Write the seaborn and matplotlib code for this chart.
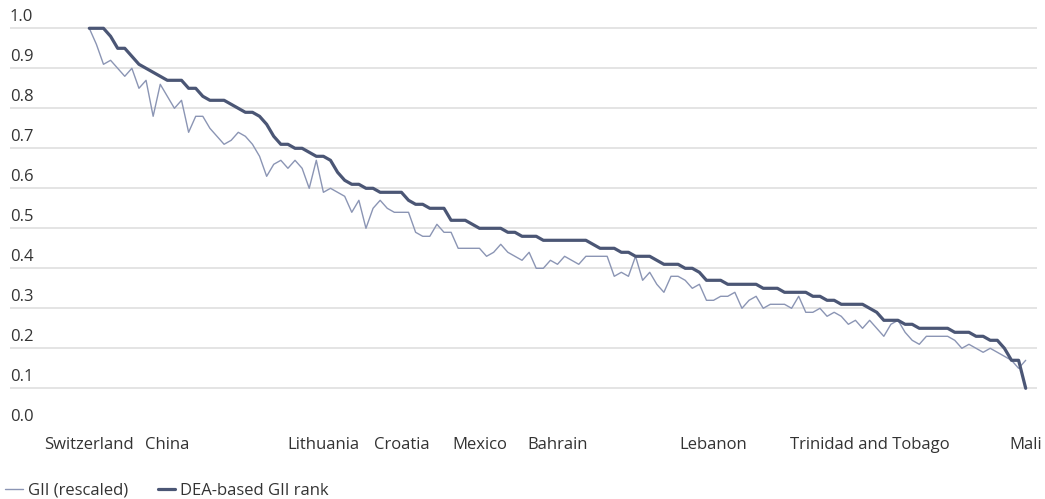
import numpy as np
import pandas as pd
import matplotlib
matplotlib.use("Agg")
import matplotlib.pyplot as plt
import seaborn as sns
from matplotlib.lines import Line2D

# ---- data -------------------------------------------------------------
gii_rescaled = [
    1.00, 0.96, 0.91, 0.92, 0.90, 0.88, 0.90, 0.85, 0.87, 0.78,
    0.86, 0.83, 0.80, 0.82, 0.74, 0.78, 0.78, 0.75, 0.73, 0.71,
    0.72, 0.74, 0.73, 0.71, 0.68, 0.63, 0.66, 0.67, 0.65, 0.67,
    0.65, 0.60, 0.67, 0.59, 0.60, 0.59, 0.58, 0.54, 0.57, 0.50,
    0.55, 0.57, 0.55, 0.54, 0.54, 0.54, 0.49, 0.48, 0.48, 0.51,
    0.49, 0.49, 0.45, 0.45, 0.45, 0.45, 0.43, 0.44, 0.46, 0.44,
    0.43, 0.42, 0.44, 0.40, 0.40, 0.42, 0.41, 0.43, 0.42, 0.41,
    0.43, 0.43, 0.43, 0.43, 0.38, 0.39, 0.38, 0.43, 0.37, 0.39,
    0.36, 0.34, 0.38, 0.38, 0.37, 0.35, 0.36, 0.32, 0.32, 0.33,
    0.33, 0.34, 0.30, 0.32, 0.33, 0.30, 0.31, 0.31, 0.31, 0.30,
    0.33, 0.29, 0.29, 0.30, 0.28, 0.29, 0.28, 0.26, 0.27, 0.25,
    0.27, 0.25, 0.23, 0.26, 0.27, 0.24, 0.22, 0.21, 0.23, 0.23,
    0.23, 0.23, 0.22, 0.20, 0.21, 0.20, 0.19, 0.20, 0.19, 0.18,
    0.17, 0.15, 0.17,
]
dea_rank = [
    1.00, 1.00, 1.00, 0.98, 0.95, 0.95, 0.93, 0.91, 0.90, 0.89,
    0.88, 0.87, 0.87, 0.87, 0.85, 0.85, 0.83, 0.82, 0.82, 0.82,
    0.81, 0.80, 0.79, 0.79, 0.78, 0.76, 0.73, 0.71, 0.71, 0.70,
    0.70, 0.69, 0.68, 0.68, 0.67, 0.64, 0.62, 0.61, 0.61, 0.60,
    0.60, 0.59, 0.59, 0.59, 0.59, 0.57, 0.56, 0.56, 0.55, 0.55,
    0.55, 0.52, 0.52, 0.52, 0.51, 0.50, 0.50, 0.50, 0.50, 0.49,
    0.49, 0.48, 0.48, 0.48, 0.47, 0.47, 0.47, 0.47, 0.47, 0.47,
    0.47, 0.46, 0.45, 0.45, 0.45, 0.44, 0.44, 0.43, 0.43, 0.43,
    0.42, 0.41, 0.41, 0.41, 0.40, 0.40, 0.39, 0.37, 0.37, 0.37,
    0.36, 0.36, 0.36, 0.36, 0.36, 0.35, 0.35, 0.35, 0.34, 0.34,
    0.34, 0.34, 0.33, 0.33, 0.32, 0.32, 0.31, 0.31, 0.31, 0.31,
    0.30, 0.29, 0.27, 0.27, 0.27, 0.26, 0.26, 0.25, 0.25, 0.25,
    0.25, 0.25, 0.24, 0.24, 0.24, 0.23, 0.23, 0.22, 0.22, 0.20,
    0.17, 0.17, 0.10,
]
country_pos = list(range(len(dea_rank)))  # country order (rank position)
label_positions = [0, 11, 33, 44, 55, 66, 88, 110, 132]
label_names = ["Switzerland", "China", "Lithuania", "Croatia", "Mexico",
               "Bahrain", "Lebanon", "Trinidad and Tobago", "Mali"]
ytick_values = [0.0, 0.1, 0.2, 0.3, 0.4, 0.5, 0.6, 0.7, 0.8, 0.9, 1.0]
ytick_labels = ["0.0", "0.1", "0.2", "0.3", "0.4", "0.5", "0.6", "0.7",
                "0.8", "0.9", "1.0"]
series_names = ["GII (rescaled)", "DEA-based GII rank"]

df = pd.DataFrame({
    "pos": country_pos * 2,
    "value": gii_rescaled + dea_rank,
    "series": [series_names[0]] * len(gii_rescaled) + [series_names[1]] * len(dea_rank),
})

# ---- style ------------------------------------------------------------
sns.set_theme(style="white")
plt.rcParams["font.family"] = ["Open Sans", "DejaVu Sans"]
FS = 12
plt.rcParams["font.size"] = FS
text_color = "#333333"
thin_color = "#8b95b4"
thick_color = "#4b5675"

W, H = 1045, 499
fig = plt.figure(figsize=(W / 100, H / 100), dpi=100)
ax_left, ax_right = 10, 1037
y0_px, y1_px = 428.3, 28.3          # pixel rows of 0.0 and 1.0
ymax = 1.05
ax_h = (y0_px - y1_px) * ymax
ax = fig.add_axes([ax_left / W, (H - y0_px) / H, (ax_right - ax_left) / W, ax_h / H])

x_first, x_last = 89.3, 1025.7
ppu = (x_last - x_first) / (len(dea_rank) - 1)
ax.set_xlim(-(x_first - ax_left) / ppu, (len(dea_rank) - 1) + (ax_right - x_last) / ppu)
ax.set_ylim(0, ymax)

# gridlines (skip 0.0)
for v in ytick_values[1:]:
    ax.axhline(v, color="#e4e4e4", lw=1.4, zorder=0)

sns.lineplot(data=df, x="pos", y="value", hue="series", size="series",
             sizes={series_names[0]: 1.0, series_names[1]: 2.3},
             palette={series_names[0]: thin_color, series_names[1]: thick_color},
             estimator=None, sort=False, ax=ax, legend=False, zorder=3)

for sp in ax.spines.values():
    sp.set_visible(False)
ax.set_xlabel("")
ax.set_ylabel("")
ax.set_yticks([])
ax.set_xticks(label_positions)
ax.set_xticklabels(label_names, color=text_color, fontsize=FS)
ax.tick_params(axis="x", length=0, pad=6.5)

for v, lab in zip(ytick_values, ytick_labels):
    ax.annotate(lab, xy=(0, v), xycoords=("axes fraction", "data"),
                xytext=(0, 5), textcoords="offset points",
                ha="left", va="baseline", color=text_color, fontsize=FS)

handles = [Line2D([], [], color=thin_color, lw=1.0),
           Line2D([], [], color=thick_color, lw=2.3)]
fig.legend(handles, series_names, loc="lower left", bbox_to_anchor=(0.0, -0.01),
           ncol=2, frameon=False, fontsize=FS, handlelength=1.05,
           handletextpad=0.3, columnspacing=1.8, borderaxespad=0.1,
           borderpad=0.2, labelcolor=text_color)

fig.savefig("out.png", dpi=100)
